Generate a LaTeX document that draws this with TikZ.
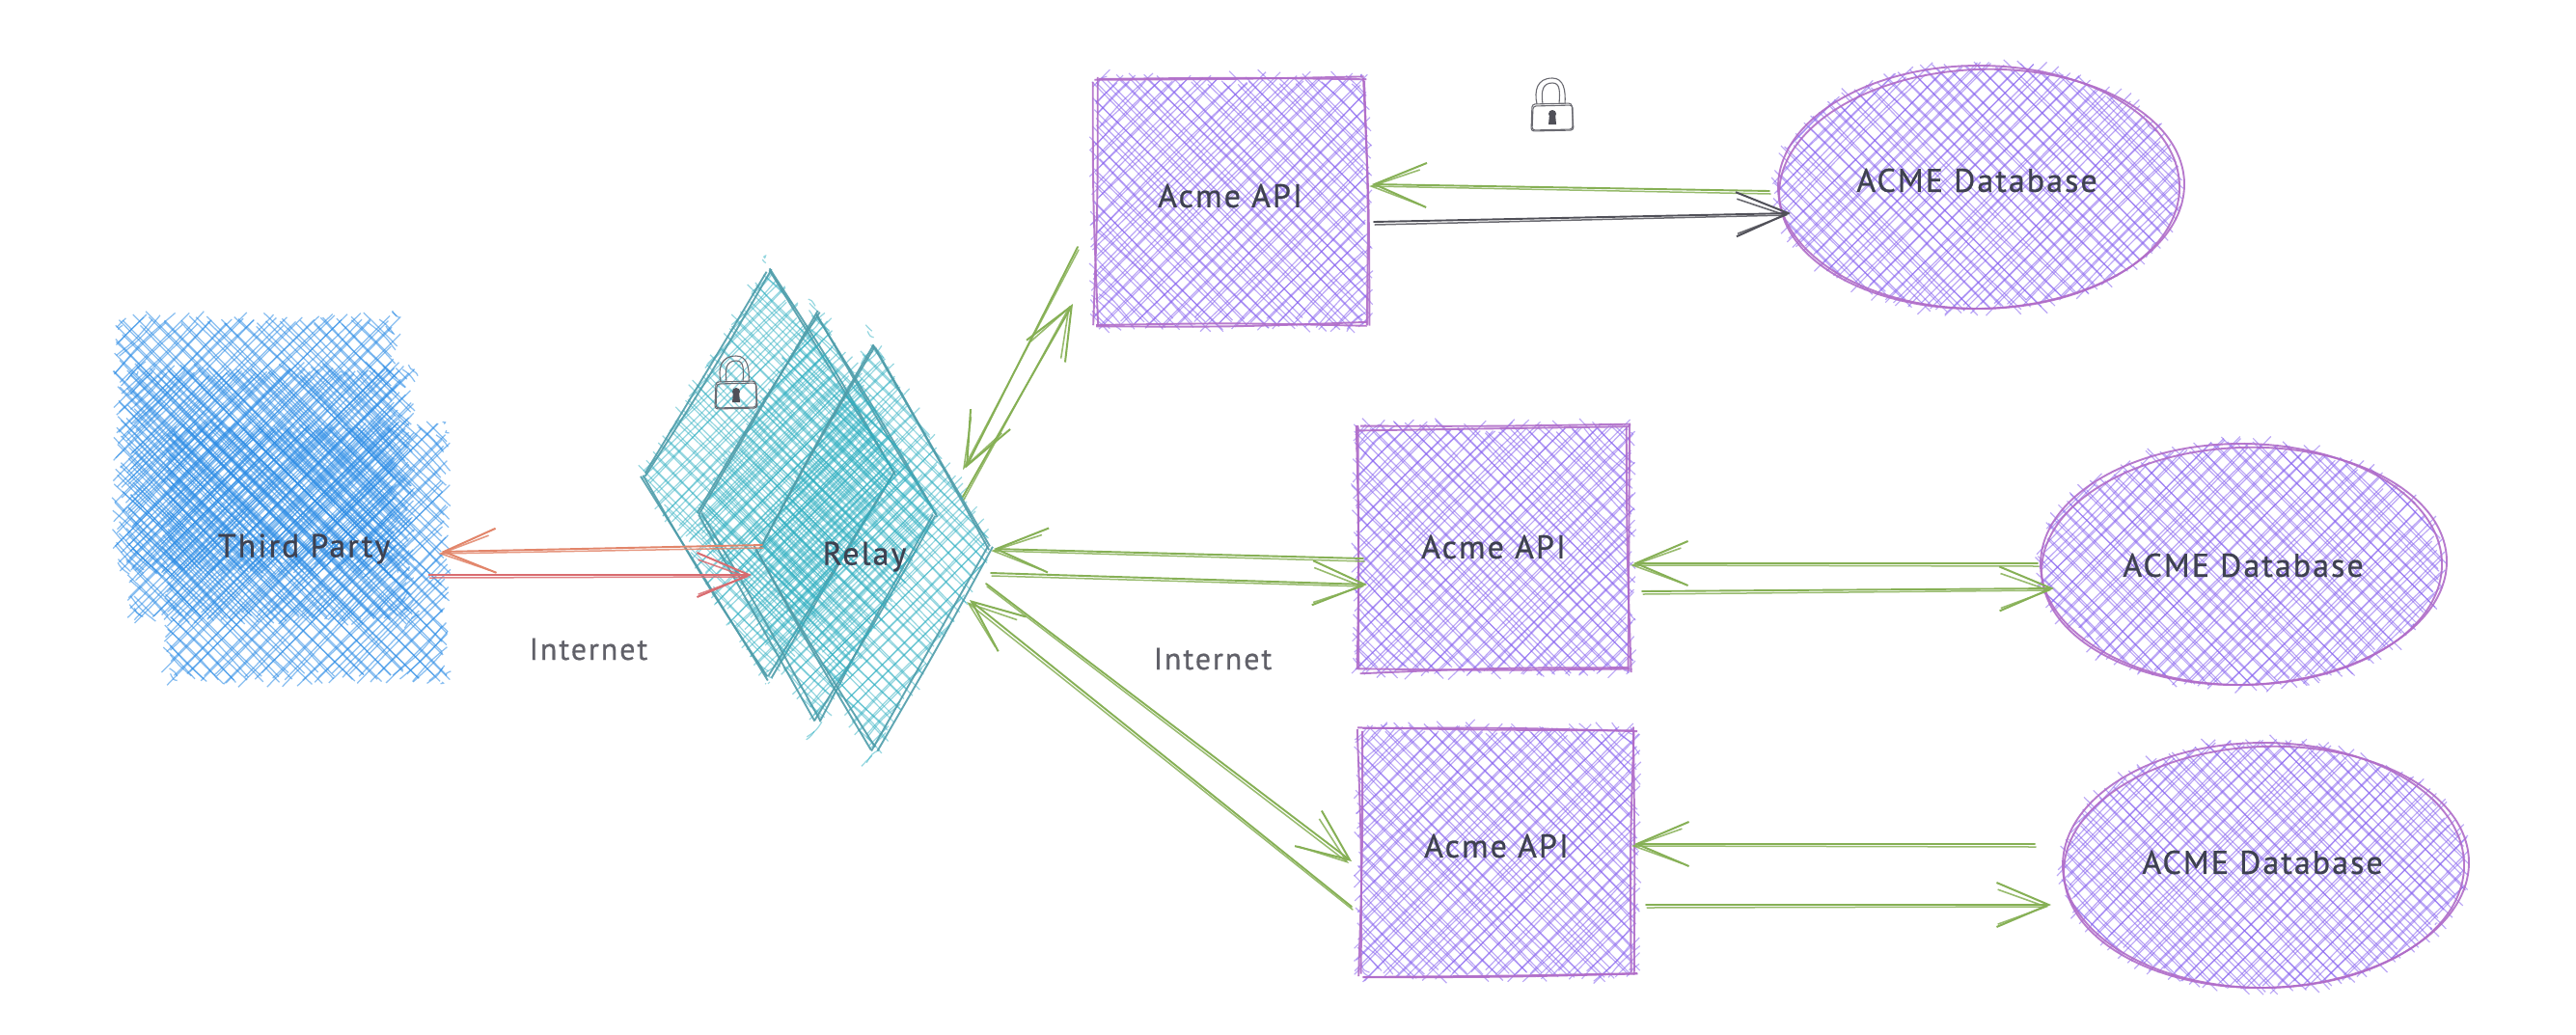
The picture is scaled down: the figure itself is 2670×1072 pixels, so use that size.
\documentclass[tikz,border=0pt]{standalone}
\usepackage{fontspec}
\usetikzlibrary{arrows.meta}
\newfontfamily\hand[LetterSpace=6,FakeBold=0.6]{PT Sans}
\definecolor{hblue}{HTML}{2B8CE6}
\definecolor{hteal}{HTML}{2FB0C2}
\definecolor{oteal}{HTML}{4F9DAA}
\definecolor{hpurp}{HTML}{8560F0}
\definecolor{opurp}{HTML}{B06CC8}
\definecolor{cgreen}{HTML}{86B055}
\definecolor{corange}{HTML}{E2856A}
\definecolor{cred}{HTML}{D96C70}
\definecolor{cgrey}{HTML}{505058}
\definecolor{ctext}{HTML}{3E4150}
\tikzset{
  hachblue/.style={draw=hblue,line width=1.25pt,opacity=.55},
  hachteal/.style={draw=hteal,line width=1.2pt,opacity=.5},
  hachpurp/.style={draw=hpurp,line width=1.15pt,opacity=.55},
  edgeteal/.style={draw=oteal,line width=1.9pt,opacity=.9},
  edgepurp/.style={draw=opurp,line width=1.9pt,opacity=.9},
  shapebox/.style={rectangle,draw=none,inner sep=0pt,outer sep=0pt},
  lbl/.style={font=\hand\fontsize{34}{40}\selectfont,text=ctext,inner sep=0pt},
  lblgrey/.style={font=\hand\fontsize{32}{38}\selectfont,text=cgrey!90,inner sep=0pt},
  sktip/.style={-{Straight Barb[length=54pt,width=46pt,line width=2pt]}},
  sktipb/.style={-{Straight Barb[length=50pt,width=36pt,line width=1.6pt]}},
  lockline/.style={draw=cgrey!85,line width=1.1pt,line join=round}
}
\newcommand\roughline[5]{%
  \pgfmathsetmacro\mx{(#2+#4)/2+rnd*6-3}%
  \pgfmathsetmacro\my{(#3+#5)/2+rnd*6-3}%
  \draw[#1] (#2,#3) .. controls (\mx,\my) .. (#4,#5);}
\newcommand\tmaxR[2]{\pgfmathsetmacro\tm{#1+#2}}
\newcommand\tmaxE[2]{\pgfmathsetmacro\tm{100*sqrt((#1/100)*(#1/100)+(#2/100)*(#2/100))}}
\newcommand\tmaxD[2]{\pgfmathsetmacro\tm{#2}}
\newcommand\chordR[3]{%
  \pgfmathsetmacro\xa{max(-#1,#3-#2)}%
  \pgfmathsetmacro\xb{min(#1,#3+#2)}}
\newcommand\chordE[3]{%
  \pgfmathsetmacro\qa{1/((#1/100)*(#1/100))+1/((#2/100)*(#2/100))}%
  \pgfmathsetmacro\qb{(#3/100)/((#2/100)*(#2/100))}%
  \pgfmathsetmacro\qc{(#3/100)*(#3/100)/((#2/100)*(#2/100))-1}%
  \pgfmathsetmacro\qd{sqrt(max(\qb*\qb-\qa*\qc,0))}%
  \pgfmathsetmacro\xa{100*(\qb-\qd)/\qa}%
  \pgfmathsetmacro\xb{100*(\qb+\qd)/\qa}}
\newcommand\chordD[3]{%
  \pgfmathsetmacro\qT{abs(#3)/100}%
  \pgfmathsetmacro\qa{100/#1}%
  \pgfmathsetmacro\qb{100/#2}%
  \pgfmathsetmacro\qc{(\qT*\qb-1)/(\qa+\qb)}%
  \pgfmathsetmacro\qd{(1+\qT*\qb)/(\qa+\qb)}%
  \pgfmathsetmacro\qd{ifthenelse(\qd<\qT,(1-\qT*\qb)/(\qa-\qb),\qd)}%
  \pgfmathsetmacro\xa{ifthenelse(#3<0,-100*\qd,100*\qc)}%
  \pgfmathsetmacro\xb{ifthenelse(#3<0,-100*\qc,100*\qd)}}
% kind, cx, cy, a, b, style, gap
\newcommand\hatchfill[7]{%
  \foreach \sg in {1,-1}{%
    \csname tmax#1\endcsname{#4}{#5}%
    \pgfmathtruncatemacro\nn{2*\tm/#7}%
    \foreach \kk in {0,...,\nn}{%
      \pgfmathsetmacro\tv{-\tm+(\kk+.5)*#7}%
      \csname chord#1\endcsname{#4}{#5}{\tv}%
      \foreach \rep in {1,2}{%
        \pgfmathsetmacro\tj{\tv+rnd*8-4}%
        \pgfmathsetmacro\ua{\xa-7+rnd*11}%
        \pgfmathsetmacro\ub{\xb+7-rnd*11}%
        \pgfmathsetmacro\pax{#2+\ua}%
        \pgfmathsetmacro\pay{#3+\sg*(\ua-\tj)}%
        \pgfmathsetmacro\pbx{#2+\ub}%
        \pgfmathsetmacro\pby{#3+\sg*(\ub-\tj)}%
        \roughline{#6}{\pax}{\pay}{\pbx}{\pby}%
      }%
    }%
  }%
}
\newcommand\doubleline[5]{%
  \foreach \rep in {1,2}{%
    \pgfmathsetmacro\pax{#2+rnd*7-3.5}%
    \pgfmathsetmacro\pay{#3+rnd*7-3.5}%
    \pgfmathsetmacro\pbx{#4+rnd*7-3.5}%
    \pgfmathsetmacro\pby{#5+rnd*7-3.5}%
    \roughline{#1}{\pax}{\pay}{\pbx}{\pby}%
  }%
}
% style, cx, cy, a, b
\newcommand\edgerect[5]{%
  \pgfmathsetmacro\la{#2-#4}\pgfmathsetmacro\lb{#2+#4}%
  \pgfmathsetmacro\lc{#3-#5}\pgfmathsetmacro\ld{#3+#5}%
  \doubleline{#1}{\la}{\lc}{\lb}{\lc}%
  \doubleline{#1}{\lb}{\lc}{\lb}{\ld}%
  \doubleline{#1}{\lb}{\ld}{\la}{\ld}%
  \doubleline{#1}{\la}{\ld}{\la}{\lc}%
}
\newcommand\edgediam[5]{%
  \pgfmathsetmacro\la{#2-#4}\pgfmathsetmacro\lb{#2+#4}%
  \pgfmathsetmacro\lc{#3-#5}\pgfmathsetmacro\ld{#3+#5}%
  \doubleline{#1}{#2}{\lc}{\lb}{#3}%
  \doubleline{#1}{\lb}{#3}{#2}{\ld}%
  \doubleline{#1}{#2}{\ld}{\la}{#3}%
  \doubleline{#1}{\la}{#3}{#2}{\lc}%
}
\newcommand\edgeell[5]{%
  \draw[#1] (#2,#3) ellipse [x radius=#4,y radius=#5];%
  \draw[#1,rotate around={2:(#2,#3)}] (#2+3,#3+2) ellipse [x radius=#4+2,y radius=#5-2];%
}
% colour, from anchor, dx, dy, to anchor, dx, dy
\newcommand\conn[7]{%
  \draw[draw=#1,line width=1.9pt,sktip,line cap=round]
    ([shift={(#3,#4)}]#2) -- ([shift={(#6,#7)}]#5);%
  \draw[draw=#1,line width=1.5pt,sktipb,line cap=round,opacity=.85]
    ([shift={(#3+1,#4+3)}]#2) -- ([shift={(#6-3,#7+2)}]#5);%
}
\newcommand\padlock[3]{%
  \begin{scope}[shift={(#1,#2)},scale=#3]
    \draw[lockline] (-16,0) .. controls (-19,-14) and (-16,-27) .. (0,-27)
      .. controls (12,-27) and (14,-14) .. (13,0);
    \draw[lockline] (-10,0) .. controls (-12,-14) and (-10,-22) .. (0,-22)
      .. controls (8,-22) and (8,-14) .. (7,0);
    \draw[lockline,rounded corners=3pt] (-21,0) -- (20,-1) -- (22,27) -- (-22,28) -- cycle;
    \draw[lockline,rounded corners=3pt] (-20,2) -- (21,1) -- (21,26) -- (-21,27) -- cycle;
    \fill[cgrey] (0,10) circle (4) (-3,10) -- (3,10) -- (4,21) -- (-4,21) -- cycle;
  \end{scope}%
}
\begin{document}
\begin{tikzpicture}[x=1pt,y=-1pt]
\useasboundingbox (0,0) rectangle (2670,1072);
\pgfmathsetseed{4242}
\fill[white] (0,0) rectangle (2670,1072);
% Third party
\hatchfill{R}{266}{461}{143}{129}{hachblue}{15}
\hatchfill{R}{280}{512}{143}{127}{hachblue}{15}
\hatchfill{R}{317}{573}{143}{129}{hachblue}{15}
\node[shapebox,minimum width=337pt,minimum height=370pt] (thirdparty) at (291,517) {};
\node[lbl] (thirdpartylabel) at (315,569) {Third Party};
% Relay
\hatchfill{D}{797}{491}{130}{212}{hachteal}{15}
\edgediam{edgeteal}{797}{491}{130}{212}
\hatchfill{D}{847}{535}{123}{211}{hachteal}{15}
\edgediam{edgeteal}{847}{535}{123}{211}
\hatchfill{D}{906}{567}{121}{210}{hachteal}{15}
\edgediam{edgeteal}{906}{567}{121}{210}
\node[shapebox,minimum width=242pt,minimum height=420pt] (relay) at (906,567) {};
\node[lbl] (relaylabel) at (896,577) {Relay};
% APIs
\hatchfill{R}{1276}{209}{140}{127}{hachpurp}{15}
\edgerect{edgepurp}{1276}{209}{140}{127}
\node[shapebox,minimum width=280pt,minimum height=254pt] (apia) at (1276,209) {};
\node[lbl] (apialabel) at (1275,203) {Acme API};
\hatchfill{R}{1548}{569}{141}{126}{hachpurp}{15}
\edgerect{edgepurp}{1548}{569}{141}{126}
\node[shapebox,minimum width=282pt,minimum height=252pt] (apib) at (1548,569) {};
\node[lbl] (apiblabel) at (1548,567) {Acme API};
\hatchfill{R}{1552}{883}{142}{127}{hachpurp}{15}
\edgerect{edgepurp}{1552}{883}{142}{127}
\node[shapebox,minimum width=285pt,minimum height=254pt] (apic) at (1552.5,883) {};
\node[lbl] (apiclabel) at (1551,877) {Acme API};
% Databases
\hatchfill{E}{2051}{194}{208}{126}{hachpurp}{15}
\edgeell{edgepurp}{2051}{194}{208}{126}
\node[shapebox,minimum width=416pt,minimum height=252pt] (dba) at (2051,194) {};
\node[lbl] (dbalabel) at (2049,187) {ACME Database};
\hatchfill{E}{2323}{585}{208}{125}{hachpurp}{15}
\edgeell{edgepurp}{2323}{585}{208}{125}
\node[shapebox,minimum width=416pt,minimum height=250pt] (dbb) at (2323,585) {};
\node[lbl] (dbblabel) at (2325,586) {ACME Database};
\hatchfill{E}{2346}{897}{208}{127}{hachpurp}{15}
\edgeell{edgepurp}{2346}{897}{208}{127}
\node[shapebox,minimum width=416pt,minimum height=254pt] (dbc) at (2346,897) {};
\node[lbl] (dbclabel) at (2345,894) {ACME Database};
% free labels
\node[lblgrey] (neta) at (610,673) {Internet};
\node[lblgrey] (netb) at (1257,683) {Internet};
% locks
\padlock{1609}{108}{1}
\padlock{763}{396}{1}
% connectors
\conn{corange}{relay.west}{5}{-2}{thirdparty.east}{-2}{55}
\conn{cred}{thirdparty.east}{-15}{79}{relay.west}{-6}{29}
\conn{cgreen}{relay.east}{-29}{-52}{apia.west}{-24}{106}
\conn{cgreen}{apia.west}{-19}{47}{relay.east}{-26}{-82}
\conn{cgreen}{apib.west}{6}{10}{relay.east}{3}{2}
\conn{cgreen}{relay.east}{0}{27}{apib.west}{10}{37}
\conn{cgreen}{relay.east}{-5}{38}{apic.west}{-9}{10}
\conn{cgreen}{apic.west}{-9}{57}{relay.east}{-22}{55}
\conn{cgreen}{dba.west}{-9}{4}{apia.east}{6}{-18}
\conn{cgrey}{apia.east}{8}{21}{dba.west}{13}{27}
\conn{cgreen}{dbb.west}{-3}{-1}{apib.east}{4}{15}
\conn{cgreen}{apib.east}{13}{44}{dbb.west}{14}{25}
\conn{cgreen}{dbc.west}{-29}{-22}{apic.east}{-1}{-8}
\conn{cgreen}{apic.east}{11}{55}{dbc.west}{-12}{41}
\end{tikzpicture}
\end{document}
